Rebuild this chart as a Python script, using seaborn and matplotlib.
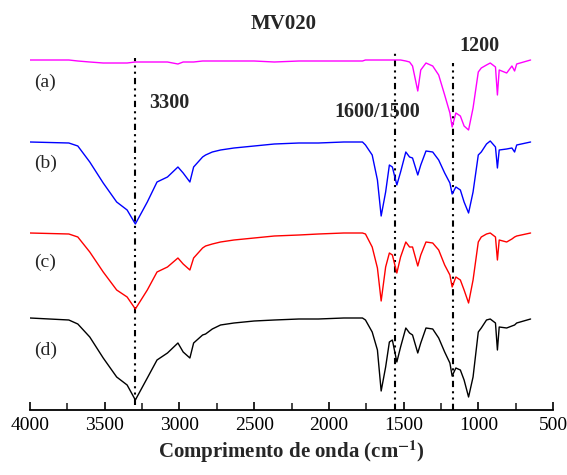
import numpy as np
import pandas as pd
import matplotlib
matplotlib.use("Agg")
import matplotlib.pyplot as plt
import seaborn as sns
from matplotlib.ticker import MultipleLocator

# ---- data (wavenumber grid, cm-1) ----
wavenumber = [4000, 3740, 3680, 3600, 3510, 3420, 3350, 3295, 3215, 3150, 3080, 3010,
              2975, 2930, 2905, 2845, 2825, 2780, 2725, 2635, 2500, 2365, 2200, 2070,
              1900, 1775,
              1755, 1710, 1675, 1650, 1620, 1595, 1575, 1545, 1520, 1485, 1460, 1440,
              1405, 1385, 1350, 1305, 1265, 1225, 1190, 1175, 1150, 1120, 1095, 1065,
              1035, 1000, 980, 945, 920, 885, 872, 860, 810, 775, 757, 743, 650]

# intensities (arbitrary units, offset spectra as plotted)
spec_a = [350, 350, 349, 348, 347, 347, 347, 348, 348, 348, 348, 346,
          348, 348, 348, 349, 349, 349, 349, 349, 349, 348, 349, 349,
          349, 349,
          350, 350, 350, 350, 350, 350, 350, 350, 350, 349, 348, 344,
          319, 340, 347, 344, 335, 315, 297, 283, 297, 294, 284, 280,
          302, 338, 342, 345, 347, 343, 315, 340, 337, 344, 339, 346, 350]
spec_b = [268, 267, 264, 248, 227, 208, 200, 186, 208, 228, 233, 243,
          237, 228, 243, 253, 255, 258, 260, 262, 264, 266, 267, 267,
          268, 268,
          265, 255, 230, 194, 218, 245, 243, 225, 238, 258, 253, 252,
          235, 245, 259, 258, 250, 237, 227, 216, 223, 220, 208, 197,
          218, 255, 258, 266, 269, 263, 242, 260, 261, 262, 258, 265, 268]
spec_c = [177, 176, 173, 158, 138, 120, 113, 101, 120, 138, 143, 152,
          146, 140, 152, 162, 164, 166, 168, 170, 172, 174, 175, 176,
          177, 177,
          176, 163, 142, 109, 143, 157, 155, 137, 153, 168, 163, 163,
          144, 155, 168, 167, 160, 145, 135, 123, 133, 130, 120, 107,
          130, 168, 173, 176, 177, 173, 150, 170, 168, 171, 173, 174, 177]
spec_d = [92, 90, 86, 73, 52, 33, 25, 10, 32, 50, 57, 67,
          58, 52, 67, 75, 76, 81, 85, 87, 89, 90, 91, 91,
          92, 92,
          90, 78, 60, 19, 43, 68, 70, 48, 63, 82, 77, 75,
          57, 67, 82, 81, 72, 58, 47, 34, 42, 40, 30, 13,
          33, 78, 82, 90, 91, 87, 60, 83, 82, 84, 85, 87, 91]

series_names = ["(a)", "(b)", "(c)", "(d)"]
series_colors = ["#FF00FF", "#0000FF", "#FF0000", "#000000"]

peak_positions = [3300, 1560, 1170]
peak_labels = ["3300", "1600/1500", "1200"]

x_ticks = [4000, 3500, 3000, 2500, 2000, 1500, 1000, 500]

# ---- build long-form table ----
frames = []
for name, vals in zip(series_names, [spec_a, spec_b, spec_c, spec_d]):
    frames.append(pd.DataFrame({"wavenumber": wavenumber, "value": vals, "sample": name}))
df = pd.concat(frames, ignore_index=True)

sns.set_theme(style="white")
plt.rcParams["font.family"] = ["Liberation Serif", "DejaVu Serif"]
plt.rcParams["mathtext.fontset"] = "stix"

fig = plt.figure(figsize=(5.67, 4.75), dpi=100)
ax = fig.add_axes([30 / 567, (475 - 410) / 475, (553 - 30) / 567, (410 - 35) / 475])

sns.lineplot(data=df, x="wavenumber", y="value", hue="sample",
             palette=dict(zip(series_names, series_colors)),
             estimator=None, linewidth=1.0, legend=False, ax=ax)

ax.set_xlim(4000, 500)
ax.set_ylim(0, 375)

# dash-dot marker lines
line_spans = [(5, 352), (0, 358), (0, 347)]
for pos, (y0, y1) in zip(peak_positions, line_spans):
    ax.plot([pos, pos], [y0, y1], color="black", linewidth=1.5,
            dashes=(3, 2, 1, 2, 1, 2), zorder=1)

# peak annotations
ax.text(3200, 307, peak_labels[0], fontsize=14.5, fontweight="bold", ha="left", va="center")
ax.text(1675, 298, peak_labels[1], fontsize=14.5, fontweight="bold", ha="center", va="center")
ax.text(1125, 364, peak_labels[2], fontsize=14.5, fontweight="bold", ha="left", va="center")

# sample labels
label_y = [328, 247, 148, 60]
for name, ly in zip(series_names, label_y):
    ax.text(3970, ly, name, fontsize=14, ha="left", va="center")

ax.set_yticks([])
ax.set_ylabel("")
ax.xaxis.set_major_locator(MultipleLocator(500))
ax.xaxis.set_minor_locator(MultipleLocator(250))
ax.set_xticks(x_ticks)
ax.set_xticklabels([str(t) for t in x_ticks])
ax.tick_params(axis="x", which="major", direction="in", length=6, width=1.2,
               labelsize=14, pad=5, bottom=True, colors="black")
ax.tick_params(axis="x", which="minor", direction="in", length=5, width=1.2, bottom=True)
for side in ["left", "right", "top"]:
    ax.spines[side].set_visible(False)
ax.spines["bottom"].set_color("black")
ax.spines["bottom"].set_linewidth(1.3)

ax.set_xlabel(r"Comprimento de onda (cm$^{\mathbf{-1}}$)", fontsize=15,
              fontweight="bold", labelpad=3)
ax.set_title("MV020", fontsize=15, fontweight="bold", pad=4, y=1.0)
ax.title.set_position((0.485, 1.0))

fig.savefig("out.png", dpi=100)
